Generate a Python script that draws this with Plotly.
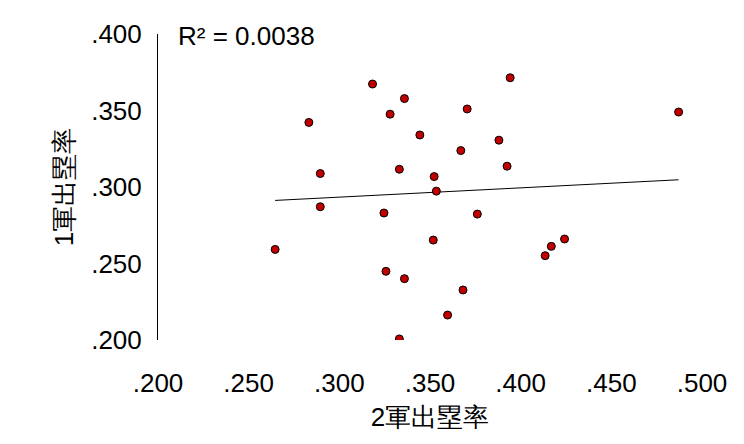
import numpy as np
import plotly.graph_objects as go

x_obp2 = [0.2646, 0.2832, 0.2895, 0.2895, 0.3183, 0.3280, 0.3359, 0.3246, 0.3257, 0.3331,
          0.3359, 0.3331, 0.3444, 0.3523, 0.3535, 0.3518, 0.3597, 0.3670, 0.3682, 0.3705,
          0.3761, 0.3880, 0.3925, 0.3942, 0.4135, 0.4169, 0.4242, 0.4871]
y_obp1 = [0.2592, 0.3422, 0.3088, 0.2871, 0.3673, 0.3476, 0.3578, 0.2830, 0.2449, 0.3116,
          0.2401, 0.2007, 0.3340, 0.3068, 0.2973, 0.2653, 0.2163, 0.3238, 0.2327, 0.3510,
          0.2823, 0.3306, 0.3136, 0.3714, 0.2551, 0.2612, 0.2660, 0.3490]
x_ticks = [0.2, 0.25, 0.3, 0.35, 0.4, 0.45, 0.5]
y_ticks = [0.2, 0.25, 0.3, 0.35, 0.4]

def fmt(v):
    return ("%.3f" % v)[1:]

# trend line
xs = np.array(x_obp2)
slope, icpt = np.polyfit(xs, np.array(y_obp1), 1)
line_x = [xs.min(), xs.max()]
line_y = [slope * v + icpt for v in line_x]

fig = go.Figure()
fig.add_trace(go.Scatter(x=line_x, y=line_y, mode='lines',
                         line=dict(color='black', width=1), hoverinfo='skip'))
fig.add_trace(go.Scatter(x=x_obp2, y=y_obp1, mode='markers',
                         marker=dict(size=8, color='#c00000', line=dict(color='black', width=1))))

font = dict(family='Liberation Sans, Arial', size=26, color='black')
fig.update_layout(
    width=744, height=444, showlegend=False,
    plot_bgcolor='white', paper_bgcolor='white',
    margin=dict(l=150, r=50, t=26, b=112),
    font=font,
    xaxis=dict(range=[0.2, 0.5], tickvals=x_ticks, ticktext=[fmt(v) for v in x_ticks],
               showgrid=False, zeroline=False, showline=False,
               ticks='outside', ticklen=20, tickcolor='white',
               title=dict(text='2軍出塁率', font=font, standoff=10)),
    yaxis=dict(range=[0.2, 0.4], tickvals=y_ticks, ticktext=[fmt(v) for v in y_ticks],
               showgrid=False, zeroline=False, showline=True, linecolor='black', linewidth=1,
               ticks='outside', ticklen=10, tickcolor='white',
               title=dict(text='1軍出塁率', font=font, standoff=10)),
    annotations=[dict(x=0.21, y=0.399, xref='x', yref='y', xanchor='left', yanchor='middle',
                      text='R² = 0.0038', showarrow=False, font=font)],
)

fig.write_html("out.html")
